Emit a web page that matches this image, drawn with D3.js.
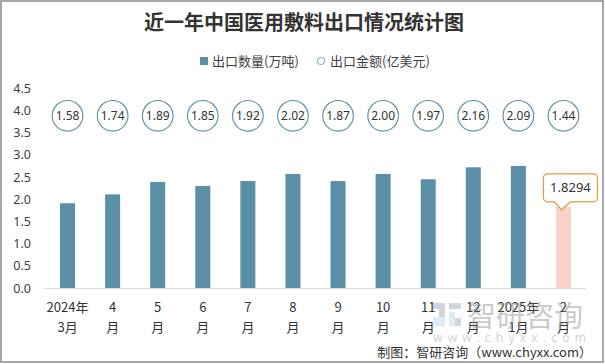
<!DOCTYPE html>
<html><head><meta charset="utf-8">
<script src="https://cdn.jsdelivr.net/npm/d3@7/dist/d3.min.js"></script>
<style>
html,body{margin:0;padding:0;background:#fff;}
svg{display:block;font-family:"Noto Sans CJK SC","Noto Sans",sans-serif;}
</style></head>
<body>
<svg id="c" width="605" height="364"></svg>
<script>
const categories = ["2024年3月","4月","5月","6月","7月","8月","9月","10月","11月","12月","2025年1月","2月"];
const labelLine1 = ["2024年","4","5","6","7","8","9","10","11","12","2025年","2"];
const labelLine2 = ["3月","月","月","月","月","月","月","月","月","月","1月","月"];
const quantity = [1.91, 2.11, 2.39, 2.30, 2.41, 2.57, 2.41, 2.57, 2.45, 2.72, 2.75, 1.8294];
const amount = [1.58, 1.74, 1.89, 1.85, 1.92, 2.02, 1.87, 2.00, 1.97, 2.16, 2.09, 1.44];
const yTicks = [0, 0.5, 1.0, 1.5, 2.0, 2.5, 3.0, 3.5, 4.0, 4.5];

const svg = d3.select("#c");
const barColor = "#5b8fa6", lastColor = "#f8d3c9", circleStroke = "#5b8fa6";

// border
svg.append("rect").attr("x",1).attr("y",1).attr("width",602).attr("height",361)
  .attr("fill","none").attr("stroke","#a6a6a6").attr("stroke-width",2);

// title
svg.append("text").attr("x",304).attr("y",30).attr("text-anchor","middle")
  .attr("font-size",20).attr("font-weight","bold").attr("fill","#333")
  .attr("font-family","'Noto Sans CJK SC',serif").text("近一年中国医用敷料出口情况统计图");

// legend
const lg = svg.append("g");
lg.append("rect").attr("x",200).attr("y",57).attr("width",8).attr("height",8).attr("fill",barColor);
lg.append("text").attr("x",212).attr("y",66).attr("font-size",13).attr("fill","#404040").text("出口数量(万吨)");
lg.append("circle").attr("cx",321).attr("cy",61).attr("r",3.5).attr("fill","#fff").attr("stroke","#8fb3c4").attr("stroke-width",1.2);
lg.append("text").attr("x",330).attr("y",66).attr("font-size",13).attr("fill","#404040").text("出口金额(亿美元)");

// scales
const x = d3.scaleBand().domain(categories).range([45, 586]).paddingInner(0.667).paddingOuter(0.3335);
const y = d3.scaleLinear().domain([0, 4.5]).range([288, 88.3]);

// y axis
const yAxis = svg.append("g").attr("transform","translate(36,0)")
  .call(d3.axisLeft(y).tickValues(yTicks).tickFormat(d3.format(".1f")).tickSize(0).tickPadding(5));
yAxis.select(".domain").remove();
yAxis.selectAll("text").attr("font-size",12.5).attr("fill","#404040").attr("font-family","'Noto Sans',sans-serif");

// baseline
svg.append("line").attr("x1",44).attr("x2",586).attr("y1",y(0)+0.5).attr("y2",y(0)+0.5)
  .attr("stroke","#d9d9d9").attr("stroke-width",1);

// bars
svg.append("g").selectAll("rect").data(quantity).join("rect")
  .attr("x",(d,i)=>x(categories[i]))
  .attr("y",d=>y(d))
  .attr("width",x.bandwidth())
  .attr("height",d=>y(0)-y(d))
  .attr("fill",(d,i)=> i===quantity.length-1 ? lastColor : barColor);

// amount circles
const amountLevel = 3.88;
const cg = svg.append("g").selectAll("g").data(amount).join("g")
  .attr("transform",(d,i)=>`translate(${x(categories[i])+x.bandwidth()/2},${y(amountLevel)})`);
cg.append("circle").attr("r",15.3).attr("fill","#fff").attr("stroke",circleStroke).attr("stroke-width",1.1);
cg.append("text").attr("text-anchor","middle").attr("dy","0.36em").attr("font-size",12)
  .attr("fill","#333").attr("font-family","'Noto Sans',sans-serif").text(d=>d.toFixed(2));

// x axis labels
const xAxis = svg.append("g").attr("transform",`translate(0,${y(0)})`)
  .call(d3.axisBottom(x).tickSize(0).tickFormat(""));
xAxis.select(".domain").remove();
xAxis.selectAll(".tick text").remove();
xAxis.selectAll(".tick").each(function(d){
  const i = categories.indexOf(d);
  const t = d3.select(this).append("text").attr("text-anchor","middle").attr("fill","#333")
    .attr("font-size",13).attr("font-family","'Noto Sans CJK SC',sans-serif");
  t.append("tspan").attr("x",0).attr("y",24).text(labelLine1[i]);
  t.append("tspan").attr("x",0).attr("y",44).text(labelLine2[i]);
});

// callout on last bar
const li = quantity.length-1;
const cx = x(categories[li]) + x.bandwidth()/2;
const tipY = y(quantity[li]) + 3;
const bx0 = cx - 20, bx1 = cx + 34, by0 = tipY - 36, by1 = tipY - 8, r = 4;
const p = d3.path();
p.moveTo(bx0+r, by0); p.lineTo(bx1-r, by0); p.arcTo(bx1,by0,bx1,by0+r,r);
p.lineTo(bx1, by1-r); p.arcTo(bx1,by1,bx1-r,by1,r);
p.lineTo(cx+7, by1); p.lineTo(cx-2, tipY); p.lineTo(cx-9, by1);
p.lineTo(bx0+r, by1); p.arcTo(bx0,by1,bx0,by1-r,r);
p.lineTo(bx0, by0+r); p.arcTo(bx0,by0,bx0+r,by0,r); p.closePath();
svg.append("path").attr("d",p.toString()).attr("fill","#fff").attr("stroke","#e8963a").attr("stroke-width",1.2);
svg.append("text").attr("x",(bx0+bx1)/2).attr("y",(by0+by1)/2).attr("dy","0.36em").attr("text-anchor","middle")
  .attr("font-size",13).attr("fill","#333").attr("font-family","'Noto Sans',sans-serif").text(quantity[li].toString());

// watermark
const wm = svg.append("g").attr("opacity",0.45);
wm.append("rect").attr("x",433).attr("y",303).attr("width",12).attr("height",6).attr("fill","#9aa5b5");
wm.append("rect").attr("x",439).attr("y",309).attr("width",6).attr("height",8).attr("fill","#9aa5b5");
wm.append("rect").attr("x",433).attr("y",317).attr("width",12).attr("height",9).attr("fill","#b9d3ea");
wm.append("rect").attr("x",449).attr("y",303).attr("width",12).attr("height",6).attr("fill","#9aa5b5");
wm.append("rect").attr("x",449).attr("y",312).attr("width",6).attr("height",14).attr("fill","#b9d3ea");
wm.append("rect").attr("x",455).attr("y",318).attr("width",6).attr("height",8).attr("fill","#9aa5b5");
wm.append("text").attr("x",467).attr("y",327).attr("font-size",29).attr("fill","#8c8c8c").text("智研咨询");
wm.append("text").attr("x",433).attr("y",342).attr("font-size",12).attr("letter-spacing",5.2)
  .attr("fill","#a0a0a0").attr("font-family","'Noto Sans',sans-serif").text("www.chyxx.com");

// footer
svg.append("text").attr("x",592).attr("y",357).attr("text-anchor","end").attr("font-size",13)
  .attr("fill","#333").text("制图：智研咨询（www.chyxx.com）");
</script>
</body></html>
